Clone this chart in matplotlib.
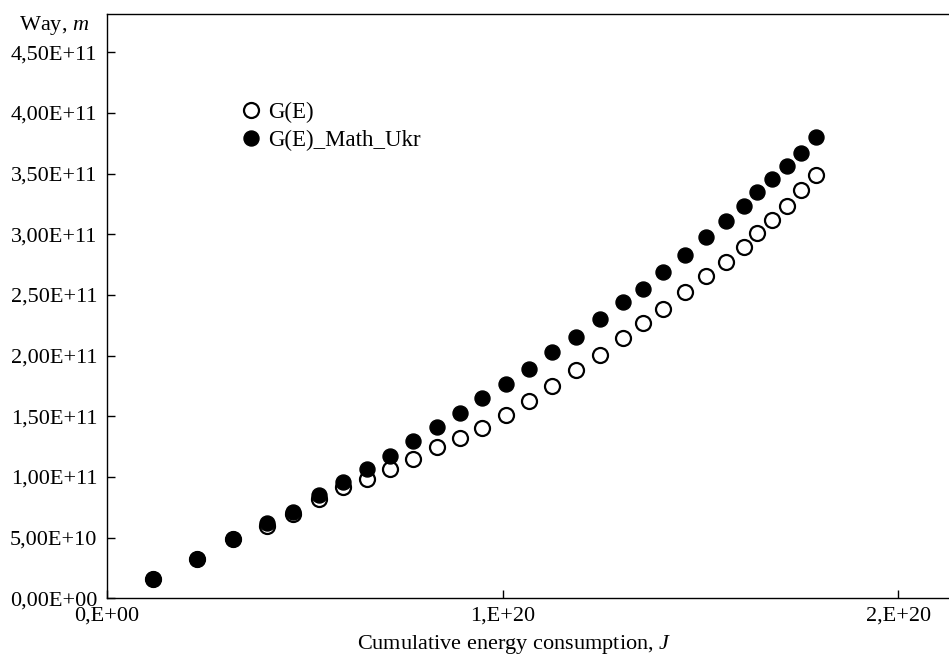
import numpy as np
import matplotlib
matplotlib.use("Agg")
import matplotlib.pyplot as plt

# dane (E w jednostkach 1e20 J, droga w 1e11 m)
energy = [0.1155, 0.2267, 0.3192, 0.4036, 0.4709, 0.5358, 0.5972, 0.6579, 0.7153, 0.7742,
          0.8333, 0.8922, 0.9470, 1.0085, 1.0674, 1.1255, 1.1854, 1.2461, 1.3034, 1.3535,
          1.4061, 1.4609, 1.5140, 1.5633, 1.6088, 1.6441, 1.6820, 1.7179, 1.7553, 1.7912]

way_g = [0.157, 0.321, 0.486, 0.596, 0.695, 0.818, 0.915, 0.981, 1.063, 1.151,
         1.249, 1.324, 1.401, 1.511, 1.626, 1.752, 1.882, 2.005, 2.143, 2.273,
         2.383, 2.527, 2.656, 2.774, 2.898, 3.008, 3.118, 3.233, 3.365, 3.489]

way_math_ukr = [0.157, 0.321, 0.486, 0.618, 0.714, 0.851, 0.961, 1.068, 1.175, 1.296,
                1.414, 1.525, 1.648, 1.766, 1.890, 2.030, 2.156, 2.300, 2.440, 2.549,
                2.687, 2.829, 2.980, 3.110, 3.236, 3.346, 3.456, 3.563, 3.673, 3.800]

series_labels = ["G(E)", "G(E)_Math_Ukr"]

x_ticks = [0, 1e20, 2e20]
x_tick_labels = ["0,E+00", "1,E+20", "2,E+20"]
y_ticks = [0, 0.5e11, 1e11, 1.5e11, 2e11, 2.5e11, 3e11, 3.5e11, 4e11, 4.5e11]
y_tick_labels = ["0,00E+00", "5,00E+10", "1,00E+11", "1,50E+11", "2,00E+11",
                 "2,50E+11", "3,00E+11", "3,50E+11", "4,00E+11", "4,50E+11"]

plt.rcParams["font.family"] = "Liberation Serif"
plt.rcParams["mathtext.fontset"] = "custom"
plt.rcParams["mathtext.rm"] = "Liberation Serif"
plt.rcParams["mathtext.it"] = "Liberation Serif:italic"


def main():
    x = np.array(energy) * 1e20
    y1 = np.array(way_g) * 1e11
    y2 = np.array(way_math_ukr) * 1e11

    fig = plt.figure(figsize=(9.49, 6.57), dpi=100)
    ax = fig.add_axes([107 / 949, 58.7 / 657, 842 / 949, 584.3 / 657])

    ax.plot(x, y1, "o", ms=10.8, mfc="white", mec="black", mew=1.6,
            label=series_labels[0], zorder=2)
    ax.plot(x, y2, "o", ms=10.8, mfc="black", mec="black", mew=1.0,
            label=series_labels[1], zorder=3)

    ax.set_xlim(0, 842 / 395.65 * 1e20)
    ax.set_ylim(0, 584.3 / 121.33 * 1e11)
    ax.set_xticks(x_ticks)
    ax.set_xticklabels(x_tick_labels)
    ax.set_yticks(y_ticks)
    ax.set_yticklabels(y_tick_labels)

    ax.tick_params(axis="both", direction="in", length=5.5, width=1.0,
                   labelsize=16, colors="black")
    ax.tick_params(axis="y", pad=7)
    ax.tick_params(axis="x", pad=6)
    ax.spines["right"].set_visible(False)
    for s in ["left", "bottom", "top"]:
        ax.spines[s].set_linewidth(1.0)

    ax.text(-0.104, 0.981, "Way, $m$", transform=ax.transAxes,
            ha="left", va="center", fontsize=16)
    ax.text(0.483, -0.079, "Cumulative energy consumption, $J$",
            transform=ax.transAxes, ha="center", va="center", fontsize=16)

    ax.legend(loc="upper left", bbox_to_anchor=(0.157, 0.849), frameon=False,
              fontsize=16.5, handlelength=1.0, handletextpad=0.25,
              borderpad=0, borderaxespad=0, labelspacing=0.3, numpoints=1)

    fig.savefig("out.png", dpi=100)


if __name__ == "__main__":
    main()
